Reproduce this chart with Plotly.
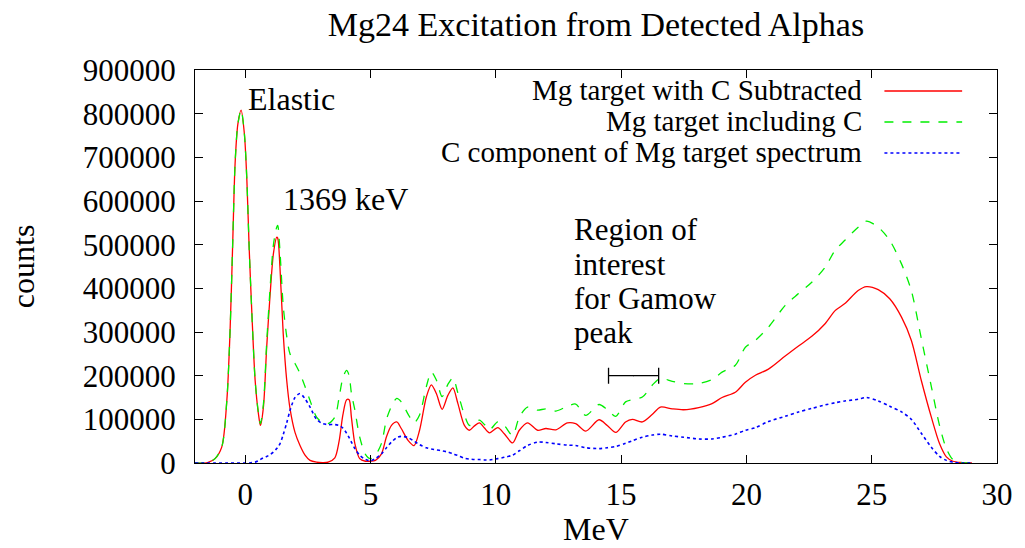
import plotly.graph_objects as go

# ---------------- data ----------------
energy_mev = [-2.0, -1.5, -1.2, -0.93, -0.73, -0.6, -0.5, -0.4, -0.29, -0.16, -0.03, 0.07, 0.16, 0.27,
              0.40, 0.53, 0.61, 0.73, 0.86, 0.99, 1.13, 1.26, 1.30, 1.39, 1.52, 1.66, 1.79, 1.99, 2.19,
              2.39, 2.59, 2.85, 3.1, 3.31, 3.58, 3.75, 3.9, 4.05, 4.15, 4.24, 4.38, 4.57, 4.8, 5.0, 5.2,
              5.44, 5.64, 5.84, 6.05, 6.23, 6.5, 6.74, 6.96, 7.23, 7.43, 7.63, 7.86, 8.09, 8.29, 8.49,
              8.75, 8.95, 9.15, 9.35, 9.55, 9.75, 10.08, 10.34, 10.67, 10.94, 11.27, 11.67, 12.0, 12.4,
              12.86, 13.19, 13.59, 14.12, 14.45, 14.79, 15.18, 15.45, 15.85, 16.24, 16.57, 17.04, 17.5,
              18.1, 18.63, 19.03, 19.56, 19.96, 20.36, 20.88, 21.55, 22.08, 22.61, 23.14, 23.54, 23.93,
              24.46, 24.79, 25.26, 25.72, 26.19, 26.58, 26.98, 27.38, 27.71, 27.98, 28.24, 28.6, 29.0]

mg_minus_c = [0, 1e3, 10e3, 37e3, 143e3, 304e3, 494e3, 686e3, 776e3, 808e3, 754e3, 647e3, 494e3, 342e3,
              189e3, 113e3, 86e3, 128e3, 265e3, 380e3, 480e3, 517e3, 515e3, 448e3, 296e3, 189e3, 125e3, 70e3, 40e3,
              18e3, 6e3, 2e3, 1e3, 2e3, 12e3, 50e3, 110e3, 145e3, 145e3, 105e3, 44e3, 10e3, 4e3, 4e3, 6e3,
              21e3, 60e3, 86e3, 94e3, 79e3, 52e3, 40e3, 75e3, 151e3, 179e3, 159e3, 123e3, 155e3, 172e3, 136e3,
              86e3, 75e3, 85e3, 92e3, 80e3, 69e3, 81e3, 67e3, 46e3, 75e3, 92e3, 75e3, 79e3, 76e3,
              92e3, 90e3, 73e3, 99e3, 86e3, 70e3, 94e3, 100e3, 94e3, 111e3, 128e3, 124e3, 122e3,
              127e3, 136e3, 150e3, 162e3, 185e3, 201e3, 215e3, 245e3, 268e3, 290e3, 319e3, 349e3, 365e3,
              395e3, 404e3, 397e3, 376e3, 334e3, 281e3, 189e3, 105e3, 44e3, 14e3, 4e3, 1e3, 0]

mg_with_c = [0, 1e3, 10e3, 37e3, 143e3, 304e3, 494e3, 686e3, 776e3, 808e3, 754e3, 647e3, 494e3, 342e3,
             189e3, 115e3, 90e3, 135e3, 275e3, 395e3, 500e3, 540e3, 544e3, 485e3, 360e3, 290e3, 250e3, 228e3, 205e3,
             175e3, 143e3, 105e3, 92e3, 90e3, 105e3, 150e3, 195e3, 212e3, 200e3, 160e3, 121e3, 60e3, 20e3, 10e3, 18e3,
             45e3, 100e3, 130e3, 148e3, 140e3, 112e3, 92e3, 110e3, 175e3, 208e3, 190e3, 152e3, 180e3, 195e3, 160e3,
             110e3, 86e3, 92e3, 98e3, 88e3, 76e3, 94e3, 86e3, 63e3, 105e3, 128e3, 121e3, 124e3, 119e3,
             130e3, 135e3, 109e3, 134e3, 122e3, 107e3, 140e3, 145e3, 151e3, 178e3, 194e3, 187e3, 182e3,
             182e3, 191e3, 208e3, 224e3, 265e3, 281e3, 311e3, 361e3, 388e3, 414e3, 448e3, 487e3, 510e3,
             540e3, 554e3, 540e3, 510e3, 456e3, 395e3, 285e3, 175e3, 85e3, 33e3, 8e3, 1e3, 0]

c_component = [0, 0, 0, 0, 0, 0, 0, 0, 0, 0, 0, 0, 0, 1e3,
               2e3, 5e3, 8e3, 12e3, 15e3, 19e3, 25e3, 33e3, 36e3, 44e3, 65e3, 92e3, 120e3, 150e3, 159e3,
               147e3, 128e3, 100e3, 90e3, 88e3, 88e3, 86e3, 80e3, 68e3, 58e3, 48e3, 33e3, 18e3, 8e3, 5e3, 10e3,
               21e3, 35e3, 48e3, 58e3, 61e3, 58e3, 50e3, 42e3, 35e3, 32e3, 30e3, 28e3, 25e3, 21e3, 17e3,
               11e3, 9e3, 8e3, 8e3, 7e3, 7e3, 10e3, 13e3, 18e3, 28e3, 40e3, 48e3, 47e3, 44e3,
               41e3, 40e3, 35e3, 33e3, 35e3, 38e3, 45e3, 51e3, 59e3, 64e3, 66e3, 62e3, 59e3,
               55e3, 55e3, 59e3, 66e3, 75e3, 81e3, 95e3, 107e3, 117e3, 125e3, 133e3, 138e3, 142e3,
               146e3, 150e3, 142e3, 130e3, 117e3, 100e3, 68e3, 36e3, 15e3, 6e3, 2e3, 0, 0]

series_names = ["Mg target with C Subtracted", "Mg target including C",
                "C component of Mg target spectrum"]

roi_center = [15.5]
roi_halfwidth = [1.0]
roi_level = [200000]

x_ticks = [0, 5, 10, 15, 20, 25, 30]
y_ticks = [0, 100000, 200000, 300000, 400000, 500000, 600000, 700000, 800000, 900000]

# ---------------- styling ----------------
FONT = "'Liberation Serif', 'Times New Roman', Times, serif"
TICK = 31
colors = ["#ff0000", "#00ee00", "#0000ff"]
dashes = ["solid", "dash", "dot"]
widths = [1.3, 1.3, 1.6]

fig = go.Figure()
for name, ys, c, d, w in zip(series_names, [mg_minus_c, mg_with_c, c_component], colors, dashes, widths):
    fig.add_trace(go.Scatter(x=energy_mev, y=ys, mode="lines", name=name,
                             line=dict(color=c, dash=d, width=w, shape="spline", smoothing=0.8),
                             showlegend=False))

fig.add_trace(go.Scatter(x=roi_center, y=roi_level, mode="markers",
                         marker=dict(size=1, color="black"),
                         error_x=dict(type="data", array=roi_halfwidth, width=8, thickness=1.3, color="black"),
                         showlegend=False))

L, R, T, B = 195, 25, 70, 85
W, H = 1025, 548
pw, ph = W - L - R, H - T - B

def px2paper_x(px):
    return (px - L) / pw

def py2paper_y(py):
    return (H - B - py) / ph

annotations = []
# legend (gnuplot style: right-aligned text, sample line at right)
leg_rows = [90, 121, 152]
shapes = []
for name, c, d, w, ry in zip(series_names, colors, dashes, widths, leg_rows):
    annotations.append(dict(x=px2paper_x(867), y=py2paper_y(ry), xref="paper", yref="paper",
                            text=name, showarrow=False, xanchor="right", yanchor="middle",
                            font=dict(family=FONT, size=29, color="black")))
    shapes.append(dict(type="line", xref="paper", yref="paper",
                       x0=px2paper_x(887), x1=px2paper_x(965),
                       y0=py2paper_y(ry + 1), y1=py2paper_y(ry + 1),
                       line=dict(color=c, dash=d, width=w)))

# in-plot labels
def add_label(text, x, y, size):
    annotations.append(dict(x=x, y=y, xref="x", yref="y", text=text, showarrow=False,
                            xanchor="left", yanchor="middle",
                            font=dict(family=FONT, size=size, color="black")))

add_label("Elastic", 0.03, 834000, 32)
add_label("1369 keV", 1.43, 605000, 32)
for line, yv in zip(["Region of", "interest", "for Gamow", "peak"], [535000, 455000, 376000, 300000]):
    add_label(line, 13.05, yv, 31)

# axis titles
annotations.append(dict(x=px2paper_x(22), y=0.5, xref="paper", yref="paper", text="counts",
                        textangle=-90, showarrow=False, xanchor="center", yanchor="middle",
                        font=dict(family=FONT, size=32, color="black")))
annotations.append(dict(x=px2paper_x(598), y=py2paper_y(529), xref="paper", yref="paper", text="MeV",
                        showarrow=False, xanchor="center", yanchor="middle",
                        font=dict(family=FONT, size=32, color="black")))

fig.update_layout(
    width=W, height=H,
    margin=dict(l=L, r=R, t=T, b=B),
    paper_bgcolor="white", plot_bgcolor="white",
    font=dict(family=FONT, color="black"),
    title=dict(text="Mg24 Excitation from Detected Alphas", x=0.5, xref="paper",
               y=1 - 24 / H, yref="container", xanchor="center", yanchor="middle",
               font=dict(family=FONT, size=34, color="black")),
    annotations=annotations, shapes=shapes,
    showlegend=False,
)
fig.update_xaxes(range=[-2, 30], tickvals=x_ticks, ticktext=[str(v) for v in x_ticks],
                 showgrid=False, zeroline=False, showline=True, linecolor="black", linewidth=1.3,
                 mirror="ticks", ticks="inside", ticklen=8, tickwidth=1.3, tickcolor="black",
                 ticklabelstandoff=4,
                 tickfont=dict(family=FONT, size=TICK, color="black"))
fig.update_yaxes(range=[0, 900000], tickvals=y_ticks, ticktext=[str(v) for v in y_ticks],
                 showgrid=False, zeroline=False, showline=True, linecolor="black", linewidth=1.3,
                 mirror="ticks", ticks="inside", ticklen=8, tickwidth=1.3, tickcolor="black",
                 ticklabelstandoff=12,
                 tickfont=dict(family=FONT, size=TICK, color="black"))

fig.write_html("out.html")
